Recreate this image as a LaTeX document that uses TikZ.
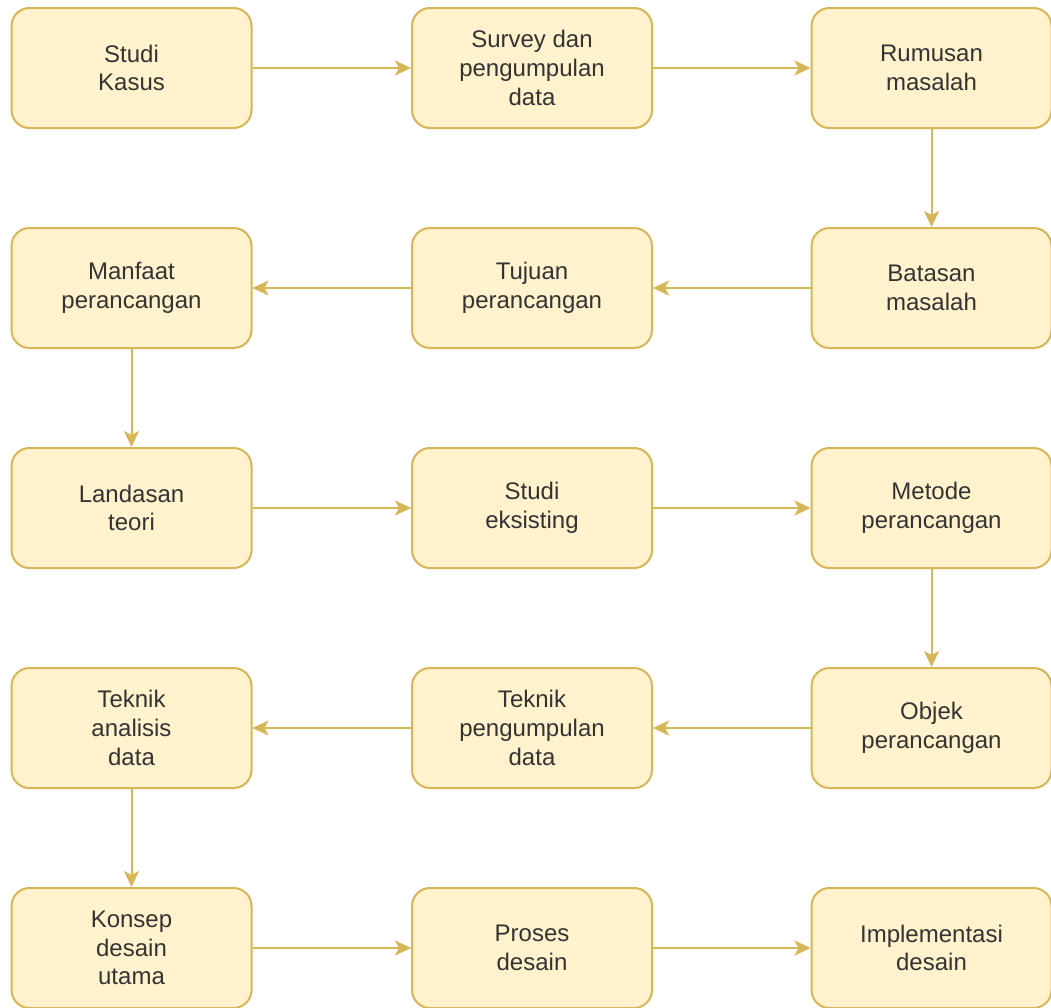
\documentclass[tikz,border=0pt]{standalone}
\usepackage{fontspec}
\setmainfont{Liberation Sans}
\usepackage{xcolor}
\usetikzlibrary{arrows.meta}

\definecolor{boxfill}{HTML}{FFF2CC}
\definecolor{boxline}{HTML}{D6B656}
\definecolor{boxtext}{HTML}{333333}

\begin{document}
\begin{tikzpicture}[x=1pt, y=-1pt,
	stage/.style={draw=boxline, fill=boxfill, line width=2pt, rounded corners=18pt,
		minimum width=240pt, minimum height=120pt, inner sep=0pt,
		align=center, text=boxtext, font=\fontsize{24}{28.8}\selectfont},
	flow/.style={draw=boxline, line width=2pt,
		-{Stealth[length=16pt, width=15pt, inset=4pt]}}]
\useasboundingbox[fill=white] (0,0) rectangle (1051,1007);

% baris 1
\node[stage] (s1) at (131.5,68) {Studi\\Kasus};
\node[stage] (s2) at (532,68) {Survey dan\\pengumpulan\\data};
\node[stage] (s3) at (931.5,68) {Rumusan\\masalah};
% baris 2
\node[stage] (s4) at (931.5,288) {Batasan\\masalah};
\node[stage] (s5) at (532,288) {Tujuan\\perancangan};
\node[stage] (s6) at (131.5,288) {Manfaat\\perancangan};
% baris 3
\node[stage] (s7) at (131.5,508) {Landasan\\teori};
\node[stage] (s8) at (532,508) {Studi\\eksisting};
\node[stage] (s9) at (931.5,508) {Metode\\perancangan};
% baris 4
\node[stage] (s10) at (931.5,728) {Objek\\perancangan};
\node[stage] (s11) at (532,728) {Teknik\\pengumpulan\\data};
\node[stage] (s12) at (131.5,728) {Teknik\\analisis\\data};
% baris 5
\node[stage] (s13) at (131.5,948) {Konsep\\desain\\utama};
\node[stage] (s14) at (532,948) {Proses\\desain};
\node[stage] (s15) at (931.5,948) {Implementasi\\desain};

\draw[flow] (s1) -- (s2);
\draw[flow] (s2) -- (s3);
\draw[flow] (s3) -- (s4);
\draw[flow] (s4) -- (s5);
\draw[flow] (s5) -- (s6);
\draw[flow] (s6) -- (s7);
\draw[flow] (s7) -- (s8);
\draw[flow] (s8) -- (s9);
\draw[flow] (s9) -- (s10);
\draw[flow] (s10) -- (s11);
\draw[flow] (s11) -- (s12);
\draw[flow] (s12) -- (s13);
\draw[flow] (s13) -- (s14);
\draw[flow] (s14) -- (s15);
\end{tikzpicture}
\end{document}
